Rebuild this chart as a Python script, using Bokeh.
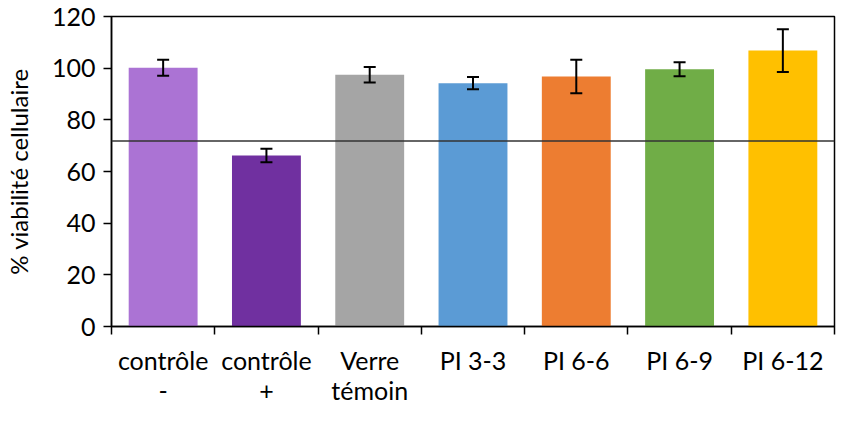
from bokeh.plotting import figure
from bokeh.models import ColumnDataSource, Whisker, Span, FixedTicker, TeeHead, Range1d
from bokeh.embed import file_html
from bokeh.resources import INLINE

categories = ["contrôle\n-", "contrôle\n+", "Verre\ntémoin", "PI 3-3", "PI 6-6", "PI 6-9", "PI 6-12"]
values = [100.2, 66.2, 97.5, 94.2, 96.8, 99.6, 106.8]
errors = [3.1, 2.6, 3.0, 2.4, 6.5, 2.7, 8.3]
colors = ["#AB73D4", "#7030A0", "#A5A5A5", "#5B9BD5", "#ED7D31", "#70AD47", "#FFC000"]
threshold = 71.8
y_ticks = [0, 20, 40, 60, 80, 100, 120]

n = len(categories)
xs = [i + 0.5 for i in range(n)]
src = ColumnDataSource(dict(
    x=xs, top=values, color=colors,
    upper=[v + e for v, e in zip(values, errors)],
    lower=[v - e for v, e in zip(values, errors)],
))

FONT = "Lato"
FS = "25px"
p = figure(width=836, height=407, output_backend="svg", toolbar_location=None,
           x_range=Range1d(0, n), y_range=Range1d(0, 120),
           min_border_left=105, min_border_right=2, min_border_top=16, min_border_bottom=0)
p.background_fill_color = "white"
p.border_fill_color = "white"
p.outline_line_color = "black"
p.outline_line_width = 1.5
p.xgrid.visible = False
p.ygrid.visible = False

p.vbar(x="x", top="top", width=0.667, bottom=0, color="color", source=src, line_color=None)

w = Whisker(base="x", upper="upper", lower="lower", source=src, line_width=2, line_color="black",
            upper_head=TeeHead(size=12, line_width=2, line_color="black"),
            lower_head=TeeHead(size=12, line_width=2, line_color="black"))
w.level = "overlay"
p.add_layout(w)

p.add_layout(Span(location=threshold, dimension="width", line_color="#333333", line_width=1.5))

# y axis
ya = p.yaxis[0]
ya.ticker = FixedTicker(ticks=y_ticks)
ya.axis_label = "% viabilité cellulaire"
ya.axis_label_text_font = FONT
ya.axis_label_text_font_size = "24px"
ya.axis_label_text_font_style = "normal"
ya.axis_label_text_color = "black"
ya.axis_label_standoff = 16
ya.major_label_text_font = FONT
ya.major_label_text_font_size = FS
ya.major_label_text_color = "black"
ya.major_label_standoff = 8
ya.major_tick_out = 8
ya.major_tick_in = 0
ya.minor_tick_out = 0
ya.minor_tick_in = 0
ya.axis_line_width = 1.5
ya.axis_line_color = "black"
ya.major_tick_line_width = 1.5
ya.major_tick_line_color = "black"

# x axis (ticks at category boundaries, labels at centres)
xa = p.xaxis[0]
xa.ticker = FixedTicker(ticks=xs, minor_ticks=list(range(n + 1)))
xa.major_label_overrides = {x: c for x, c in zip(xs, categories)}
xa.major_label_text_font = FONT
xa.major_label_text_font_size = FS
xa.major_label_text_color = "black"
xa.major_label_text_line_height = 1.0
xa.major_label_standoff = 10
xa.major_tick_out = 0
xa.major_tick_in = 0
xa.minor_tick_out = 8
xa.minor_tick_in = 0
xa.minor_tick_line_width = 1.5
xa.minor_tick_line_color = "black"
xa.axis_line_width = 1.5
xa.axis_line_color = "black"

open("out.html", "w").write(file_html(p, INLINE))
